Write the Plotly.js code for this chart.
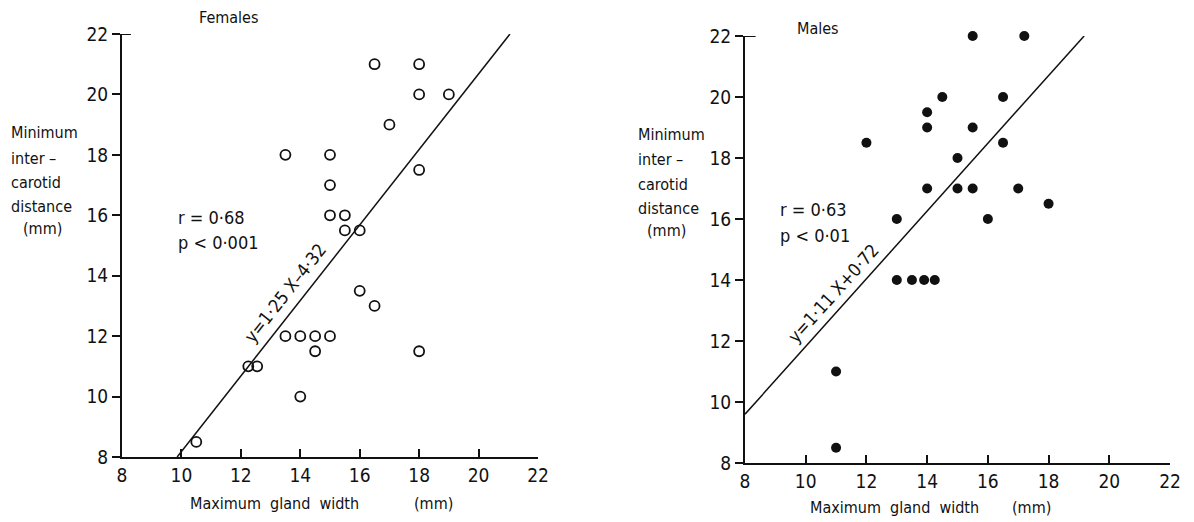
<!DOCTYPE html>
<html>
<head>
<meta charset="utf-8">
<script src="https://cdn.plot.ly/plotly-3.0.1.min.js"></script>
<style>html,body{margin:0;padding:0;background:#fff;}#chart{width:1194px;height:522px;}</style>
</head>
<body>
<div id="chart"></div>
<script>
// Females (open circles)
const femaleWidth = [16.5, 18, 18, 19, 17, 13.5, 15, 18, 15, 15, 15.5, 15.5, 16, 16, 16.5, 13.5, 14, 14.5, 15, 14.5, 18, 12.25, 12.55, 14, 10.5];
const femaleDist  = [21, 21, 20, 20, 19, 18, 18, 17.5, 17, 16, 16, 15.5, 15.5, 13.5, 13, 12, 12, 12, 12, 11.5, 11.5, 11, 11, 10, 8.5];
// Males (filled circles)
const maleWidth = [15.5, 17.2, 14.5, 16.5, 14, 14, 15.5, 12, 16.5, 15, 14, 15, 15.5, 17, 18, 13, 16, 13, 13.5, 13.9, 14.25, 11, 11];
const maleDist  = [22, 22, 20, 20, 19.5, 19, 19, 18.5, 18.5, 18, 17, 17, 17, 17, 16.5, 16, 16, 14, 14, 14, 14, 11, 8.5];
// Regression lines
const femaleSlope = 1.25, femaleIntercept = -4.32;
const maleSlope = 1.11, maleIntercept = 0.72;
const tickVals = [8, 10, 12, 14, 16, 18, 20, 22];
const tickText = ['8', '10', '12', '14', '16', '18', '20', '22'];

const fLineX = [(8 - femaleIntercept) / femaleSlope, (22 - femaleIntercept) / femaleSlope];
const fLineY = fLineX.map(x => femaleSlope * x + femaleIntercept);
const mLineX = [8, (22 - maleIntercept) / maleSlope];
const mLineY = mLineX.map(x => maleSlope * x + maleIntercept);

const FONT = '"DejaVu Sans Condensed", "Liberation Sans Narrow", sans-serif';
const W = 1194, H = 522;
const px = v => v / W, py = v => 1 - v / H;

const traces = [
  {x: fLineX, y: fLineY, mode: 'lines', line: {color: '#111', width: 1.5}, xaxis: 'x', yaxis: 'y', hoverinfo: 'skip', cliponaxis: false},
  {x: femaleWidth, y: femaleDist, mode: 'markers', marker: {symbol: 'circle-open', size: 10, color: '#111', line: {width: 1.8}}, xaxis: 'x', yaxis: 'y', cliponaxis: false},
  {x: mLineX, y: mLineY, mode: 'lines', line: {color: '#111', width: 1.5}, xaxis: 'x2', yaxis: 'y2', hoverinfo: 'skip', cliponaxis: false},
  {x: maleWidth, y: maleDist, mode: 'markers', marker: {symbol: 'circle', size: 10, color: '#111'}, xaxis: 'x2', yaxis: 'y2', cliponaxis: false}
];

const axBase = {
  range: [8, 22], tickvals: tickVals, ticktext: tickText, showgrid: false, zeroline: false,
  showline: true, linecolor: '#111', linewidth: 2, tickcolor: '#111', tickwidth: 2, ticklen: 8,
  tickfont: {family: FONT, size: 19, color: '#111'}, fixedrange: true
};
const xa = Object.assign({}, axBase, {ticks: 'inside', ticklabelstandoff: 0});
const ya = Object.assign({}, axBase, {ticks: 'outside'});

function txt(x, y, text, opts) {
  return Object.assign({xref: 'paper', yref: 'paper', x: px(x), y: py(y), text: text, showarrow: false,
    font: {family: FONT, size: 16, color: '#111'}, xanchor: 'left', yanchor: 'middle'}, opts || {});
}

const annotations = [
  txt(197, 18, 'Females'),
  txt(795, 28, 'Males'),
  txt(176, 218, 'r = 0·68', {font: {family: FONT, size: 18, color: '#111'}}),
  txt(176, 243, 'p &lt; 0·001', {font: {family: FONT, size: 18, color: '#111'}}),
  txt(778, 209, 'r = 0·63', {font: {family: FONT, size: 18, color: '#111'}}),
  txt(778, 235, 'p &lt; 0·01', {font: {family: FONT, size: 18, color: '#111'}}),
  // y titles
  txt(9, 133, 'Minimum'), txt(9, 158, 'inter –'), txt(9, 182, 'carotid'), txt(9, 206, 'distance'), txt(21, 229, '(mm)'),
  txt(636, 135, 'Minimum'), txt(636, 160, 'inter –'), txt(636, 184, 'carotid'), txt(636, 208, 'distance'), txt(645, 231, '(mm)'),
  // x titles
  txt(188, 503, 'Maximum  gland  width'), txt(412, 503, '(mm)'),
  txt(808, 507, 'Maximum  gland  width'), txt(1010, 507, '(mm)'),
  // regression labels along lines
  {xref: 'x', yref: 'y', x: 13.5, y: 13.45, text: 'y=1·25 X–4·32', showarrow: false, textangle: -51.8,
   font: {family: FONT, size: 18, color: '#111'}},
  {xref: 'x2', yref: 'y2', x: 10.9, y: 13.55, text: 'y=1·11 X+0·72', showarrow: false, textangle: -48,
   font: {family: FONT, size: 18, color: '#111'}}
];

const shapes = [
  {type: 'line', xref: 'x', yref: 'y', x0: 8, x1: 8.3, y0: 22, y1: 22, line: {color: '#111', width: 2}},
  {type: 'line', xref: 'x2', yref: 'y2', x0: 8, x1: 8.35, y0: 22, y1: 22, line: {color: '#111', width: 2}}
];

const layout = {
  width: W, height: H, margin: {l: 0, r: 0, t: 0, b: 0},
  paper_bgcolor: '#fff', plot_bgcolor: '#fff', showlegend: false,
  xaxis: Object.assign({}, xa, {domain: [122 / W, 538 / W], anchor: 'y'}),
  yaxis: Object.assign({}, ya, {domain: [(H - 457) / H, (H - 34) / H], anchor: 'x'}),
  xaxis2: Object.assign({}, xa, {domain: [745 / W, 1170 / W], anchor: 'y2'}),
  yaxis2: Object.assign({}, ya, {domain: [(H - 463) / H, (H - 36) / H], anchor: 'x2'}),
  annotations: annotations, shapes: shapes
};

Plotly.newPlot('chart', traces, layout, {displayModeBar: false, staticPlot: true});
</script>
</body>
</html>
